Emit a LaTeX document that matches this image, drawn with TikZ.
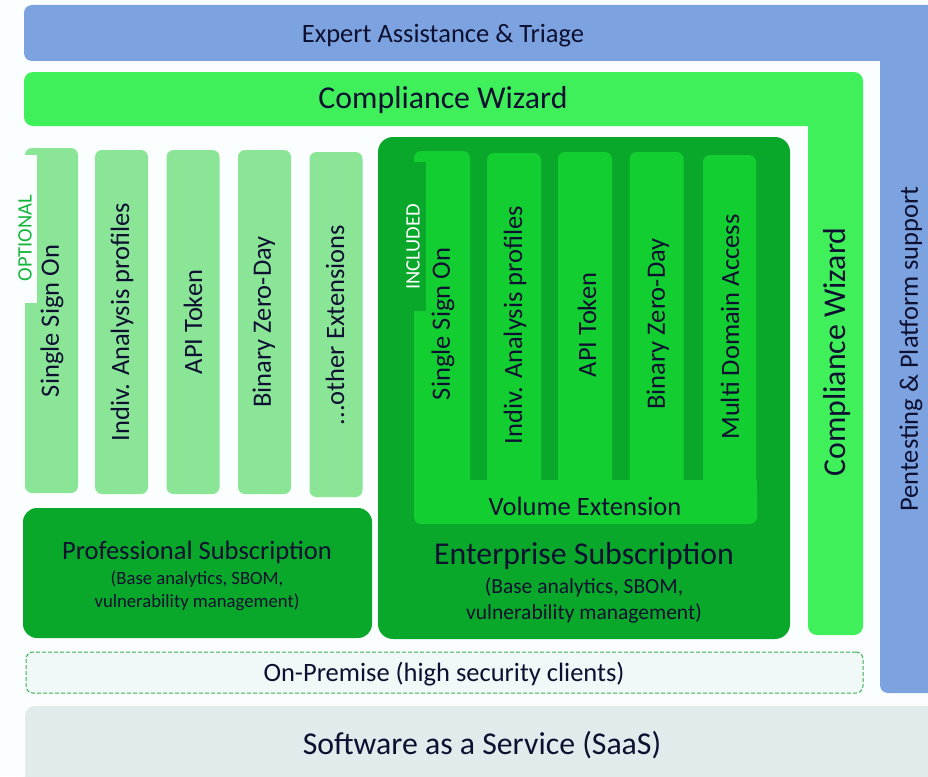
\documentclass[tikz,border=0pt]{standalone}
\usepackage{fontspec}
\setmainfont{Carlito}
\definecolor{bg}{HTML}{FBFEFE}
\definecolor{bluebar}{HTML}{7CA3E0}
\definecolor{brightgreen}{HTML}{3FF05A}
\definecolor{lightgreen}{HTML}{8AE696}
\definecolor{darkgreen}{HTML}{0AA82A}
\definecolor{midgreen}{HTML}{12CE30}
\definecolor{optgreen}{HTML}{12B53A}
\definecolor{premfill}{HTML}{F0F9F8}
\definecolor{premline}{HTML}{3AB04E}
\definecolor{saasfill}{HTML}{E1EBEC}
\definecolor{ink}{HTML}{0D1030}
\tikzset{
  lbl/.style={text=ink, inner sep=0pt, font=\fontsize{26.5}{30}\selectfont},
  biglbl/.style={text=ink, inner sep=0pt, font=\fontsize{31.8}{36}\selectfont},
  vlbl/.style={lbl, rotate=90},
  colbox/.style={fill=lightgreen, rounded corners=7pt, inner sep=0pt, minimum width=53pt},
  entcol/.style={fill=midgreen, rounded corners=7pt, inner sep=0pt, minimum width=54pt},
  tagtext/.style={inner sep=0pt, rotate=90, font=\fontsize{20.5}{24}\selectfont},
}
\begin{document}
\begin{tikzpicture}[x=1pt,y=-1pt]
\useasboundingbox (0,0) rectangle (928,776);
\fill[bg] (0,0) rectangle (928,776);

% Blue L-shape
\fill[bluebar] (24,33) [rounded corners=8pt] -- (24,5) [sharp corners] -- (940,5) -- (940,693) [rounded corners=8pt] -- (880,693) [sharp corners] -- (880,61) [rounded corners=8pt] -- (24,61) [sharp corners] -- cycle;
\node[lbl] (expert) at (443,36) {Expert Assistance \& Triage};
\node[vlbl] (pentest) at (911,349) {Pentesting \& Platform support};

% Green L-shape
\fill[brightgreen] (24,99) [rounded corners=9pt] -- (24,72) -- (863,72) -- (863,635) -- (808,635) [sharp corners] -- (808,126) [rounded corners=9pt] -- (24,126) [sharp corners] -- cycle;
\node[biglbl] (cwh) at (443,100) {Compliance Wizard};
\node[biglbl, rotate=90] (cwv) at (837,352) {Compliance Wizard};

% Left optional columns
\node[colbox, minimum height=345pt] (c1) at (51.5,320.5) {};
\fill[bg] (25,155) rectangle (37,303);
\node[tagtext, text=optgreen] (opt) at (25,238) {OPTIONAL};
\node[colbox, minimum height=344pt] (c2) at (121.5,322) {};
\node[colbox, minimum height=344pt] (c3) at (193,322) {};
\node[colbox, minimum height=344pt] (c4) at (264.5,322) {};
\node[colbox, minimum height=345pt] (c5) at (336,324.5) {};
\node[vlbl] (t1) at (52,321) {Single Sign On};
\node[vlbl] (t2) at (122,322) {Indiv. Analysis profiles};
\node[vlbl] (t3) at (193,322) {API Token};
\node[vlbl] (t4) at (264,322) {Binary Zero-Day};
\node[vlbl] (t5) at (335,325) {...other Extensions};

% Professional subscription
\node[fill=darkgreen, rounded corners=14pt, minimum width=349pt, minimum height=130pt, inner sep=0pt] (pro) at (197.5,573) {};
\node[lbl] (protitle) at (197,552) {Professional Subscription};
\node[text=ink, inner sep=0pt, align=center, font=\fontsize{18.7}{23}\selectfont] (prosub) at (197,590.5) {(Base analytics, SBOM,\\vulnerability management)};

% Enterprise subscription
\node[fill=darkgreen, rounded corners=15pt, minimum width=412pt, minimum height=502pt, inner sep=0pt] (ent) at (584,388) {};
\node[entcol, minimum height=349pt, minimum width=56pt] (e1) at (442,325.5) {};
\node[entcol, minimum height=347pt] (e2) at (514,326.5) {};
\node[entcol, minimum height=348pt] (e3) at (585,326) {};
\node[entcol, minimum height=348pt] (e4) at (656.5,326) {};
\node[entcol, minimum height=345pt, minimum width=53pt] (e5) at (729.5,327.5) {};
\node[fill=midgreen, rounded corners=7pt, minimum width=343pt, minimum height=40pt, inner sep=0pt] (vol) at (585.5,504) {};
\fill[midgreen] (414,480) rectangle (757,490);
\fill[darkgreen] (414,162) rectangle (426,311);
\node[tagtext, text=white] (inc) at (413,247) {INCLUDED};
\node[vlbl] (s1) at (443,324) {Single Sign On};
\node[vlbl] (s2) at (515,325) {Indiv. Analysis profiles};
\node[vlbl] (s3) at (587,325) {API Token};
\node[vlbl] (s4) at (658,324) {Binary Zero-Day};
\node[vlbl] (s5) at (730,327) {Multi Domain Access};
\node[lbl] (voltext) at (585,506) {Volume Extension};
\node[biglbl] (enttitle) at (584,556) {Enterprise Subscription};
\node[text=ink, inner sep=0pt, align=center, font=\fontsize{21.5}{26}\selectfont] (entsub) at (584,600) {(Base analytics, SBOM,\\vulnerability management)};

% On-Premise
\node[fill=premfill, draw=premline, dash pattern=on 4pt off 2pt, line width=1pt, rounded corners=7pt, minimum width=837pt, minimum height=41pt, inner sep=0pt] (prem) at (444.5,672.5) {};
\node[lbl] (premtext) at (444,674) {On-Premise (high security clients)};

% SaaS
\fill[saasfill, rounded corners=10pt] (25,706) rectangle (945,790);
\node[biglbl] (saas) at (482,745) {Software as a Service (SaaS)};
\end{tikzpicture}
\end{document}
